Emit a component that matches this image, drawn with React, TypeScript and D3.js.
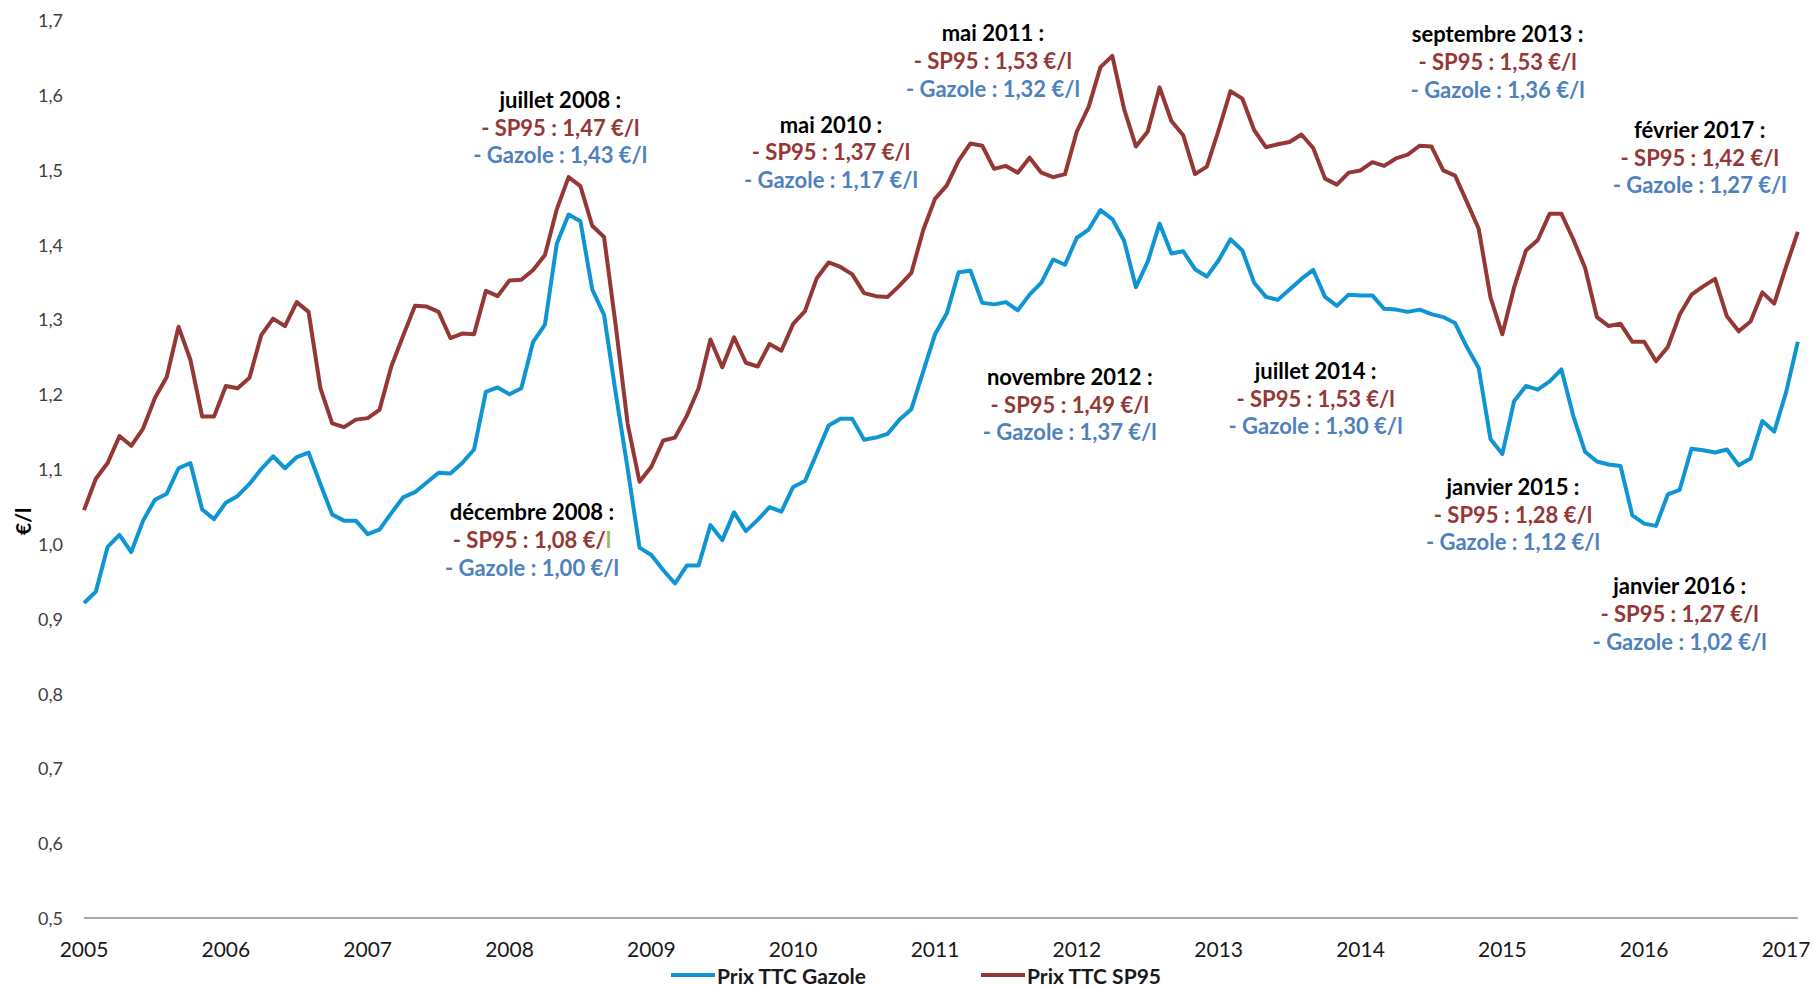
import React from 'react';
import * as d3 from 'd3';

// monthly prices, Jan 2005 -> Feb 2017 (€/l)
const yearLabels = ['2005', '2006', '2007', '2008', '2009', '2010', '2011', '2012', '2013', '2014', '2015', '2016', '2017'];
const yTickValues = [0.5, 0.6, 0.7, 0.8, 0.9, 1.0, 1.1, 1.2, 1.3, 1.4, 1.5, 1.6, 1.7];

const gazole = [
  0.921, 0.936, 0.996, 1.012, 0.989, 1.031, 1.059, 1.067, 1.101, 1.108, 1.046, 1.033,
  1.055, 1.064, 1.080, 1.100, 1.117, 1.101, 1.116, 1.122, 1.080, 1.039, 1.031, 1.031,
  1.013, 1.019, 1.041, 1.062, 1.069, 1.082, 1.095, 1.094, 1.108, 1.126, 1.203, 1.209,
  1.200, 1.208, 1.270, 1.293, 1.401, 1.440, 1.431, 1.340, 1.306, 1.200, 1.100, 0.995,
  0.985, 0.965, 0.947, 0.971, 0.971, 1.025, 1.005, 1.042, 1.017, 1.032, 1.049, 1.043,
  1.076, 1.084, 1.121, 1.158, 1.167, 1.167, 1.139, 1.142, 1.147, 1.166, 1.180, 1.230,
  1.280, 1.308, 1.363, 1.365, 1.322, 1.320, 1.323, 1.312, 1.333, 1.349, 1.380, 1.373,
  1.409, 1.420, 1.446, 1.434, 1.405, 1.343, 1.377, 1.428, 1.388, 1.391, 1.367, 1.357,
  1.379, 1.407, 1.392, 1.349, 1.330, 1.326, 1.340, 1.354, 1.366, 1.330, 1.318, 1.333,
  1.332, 1.332, 1.314, 1.313, 1.310, 1.313, 1.307, 1.303, 1.295, 1.263, 1.235, 1.140,
  1.120, 1.191, 1.211, 1.206, 1.217, 1.233, 1.171, 1.123, 1.110, 1.106, 1.104, 1.038,
  1.027, 1.024, 1.066, 1.072, 1.127, 1.125, 1.122, 1.126, 1.105, 1.114, 1.164, 1.150,
  1.202, 1.270,
];

const sp95 = [
  1.045, 1.087, 1.108, 1.144, 1.131, 1.154, 1.195, 1.223, 1.290, 1.246, 1.170, 1.170,
  1.211, 1.208, 1.222, 1.279, 1.301, 1.291, 1.323, 1.310, 1.208, 1.161, 1.156, 1.166,
  1.168, 1.179, 1.237, 1.278, 1.318, 1.317, 1.310, 1.275, 1.281, 1.280, 1.338, 1.331,
  1.352, 1.353, 1.366, 1.386, 1.447, 1.490, 1.478, 1.425, 1.410, 1.290, 1.160, 1.083,
  1.103, 1.138, 1.142, 1.171, 1.208, 1.273, 1.236, 1.276, 1.242, 1.237, 1.267, 1.258,
  1.294, 1.311, 1.355, 1.376, 1.370, 1.360, 1.335, 1.331, 1.330, 1.345, 1.362, 1.419,
  1.461, 1.479, 1.512, 1.535, 1.532, 1.501, 1.505, 1.496, 1.516, 1.496, 1.490, 1.494,
  1.551, 1.584, 1.637, 1.652, 1.581, 1.531, 1.551, 1.610, 1.565, 1.546, 1.494, 1.504,
  1.553, 1.605, 1.595, 1.553, 1.530, 1.534, 1.537, 1.547, 1.529, 1.488, 1.480, 1.496,
  1.499, 1.510, 1.505, 1.515, 1.520, 1.532, 1.531, 1.499, 1.492, 1.457, 1.421, 1.329,
  1.280, 1.343, 1.392, 1.406, 1.441, 1.441, 1.407, 1.369, 1.303, 1.291, 1.294, 1.270,
  1.270, 1.244, 1.263, 1.306, 1.333, 1.344, 1.354, 1.304, 1.284, 1.297, 1.336, 1.321,
  1.370, 1.417,
];

const seriesNames = ['Prix TTC Gazole', 'Prix TTC SP95'];

// callout texts
const noteTitles = [
  'juillet 2008 :', 'décembre 2008 :', 'mai 2010 :', 'mai 2011 :', 'novembre 2012 :',
  'juillet 2014 :', 'septembre 2013 :', 'février 2017 :', 'janvier 2015 :', 'janvier 2016 :',
];
const noteSp95 = ['1,47', '1,08', '1,37', '1,53', '1,49', '1,53', '1,53', '1,42', '1,28', '1,27'];
const noteGazole = ['1,43', '1,00', '1,17', '1,32', '1,37', '1,30', '1,36', '1,27', '1,12', '1,02'];
// where each callout sits, in chart units (month index, €/l of the title line)
const noteAnchors: [number, number][] = [
  [40.3, 1.594], [37.9, 1.043], [63.2, 1.561], [76.9, 1.683], [83.4, 1.224],
  [104.2, 1.232], [119.6, 1.682], [136.7, 1.554], [120.9, 1.077], [135.0, 0.944],
];

const RED = '#953735';
const BLUE = '#0f95d3';
const NOTE_BLUE = '#4f81bd';
const FONT = 'Lato, "Open Sans", sans-serif';

export default function App() {
  const width = 1814;
  const height = 987;

  const x = d3.scaleLinear().domain([0, 144]).range([84, 1786]);
  const y = d3.scaleLinear().domain([0.5, 1.7]).range([918, 20]);

  const line = d3.line<number>()
    .x((d, i) => x(i))
    .y(d => y(d));

  const lastIdx = gazole.length - 1;

  return (
    <svg
      width={width}
      height={height}
      style={{ position: 'absolute', left: 0, top: 0, background: '#fff' }}
      fontFamily={FONT}
    >
      {/* y tick labels, no gridlines */}
      {yTickValues.map(v => (
        <text key={v} x={63} y={y(v)} textAnchor="end" dominantBaseline="central"
          fontSize={18} fill="#404040">
          {d3.format('.1f')(v).replace('.', ',')}
        </text>
      ))}

      <text transform={`translate(22,${y(1.03)}) rotate(-90)`} textAnchor="middle"
        dominantBaseline="central" fontSize={21} fontWeight="bold" fill="#000">€/l</text>

      {/* x axis */}
      <line x1={x(0)} x2={x(lastIdx)} y1={y(0.5)} y2={y(0.5)} stroke="#8c8c8c" strokeWidth={1.5} />
      {yearLabels.map((lab, k) => (
        <text key={lab} x={x(k * 12)} y={948} textAnchor="middle" dominantBaseline="central"
          fontSize={21} fill="#1a1a1a">{lab}</text>
      ))}

      {/* series */}
      <path d={line(gazole) || ''} fill="none" stroke={BLUE} strokeWidth={4} strokeLinejoin="round" />
      <path d={line(sp95) || ''} fill="none" stroke={RED} strokeWidth={4} strokeLinejoin="round" />

      {/* callouts */}
      {noteTitles.map((t, i) => {
        const [m, v] = noteAnchors[i];
        const cx = x(m);
        const cy = y(v);
        return (
          <g key={t} textAnchor="middle" fontSize={22} fontWeight="bold">
            <text x={cx} y={cy} dominantBaseline="central" fill="#000">{t}</text>
            <text x={cx} y={cy + 27.8} dominantBaseline="central" fill={RED}>
              {i === 1
                ? <>{`- SP95 : ${noteSp95[i]} €/`}<tspan fill="#9bbb59">l</tspan></>
                : `- SP95 : ${noteSp95[i]} €/l`}
            </text>
            <text x={cx} y={cy + 55.6} dominantBaseline="central" fill={NOTE_BLUE}>
              {`- Gazole : ${noteGazole[i]} €/l`}
            </text>
          </g>
        );
      })}

      {/* legend */}
      <g fontSize={21} fontWeight="bold" fill="#1a1a1a">
        <line x1={671} x2={715} y1={975} y2={975} stroke={BLUE} strokeWidth={4} />
        <text x={717} y={975} dominantBaseline="central">{seriesNames[0]}</text>
        <line x1={981} x2={1025} y1={975} y2={975} stroke={RED} strokeWidth={4} />
        <text x={1027} y={975} dominantBaseline="central">{seriesNames[1]}</text>
      </g>
    </svg>
  );
}
